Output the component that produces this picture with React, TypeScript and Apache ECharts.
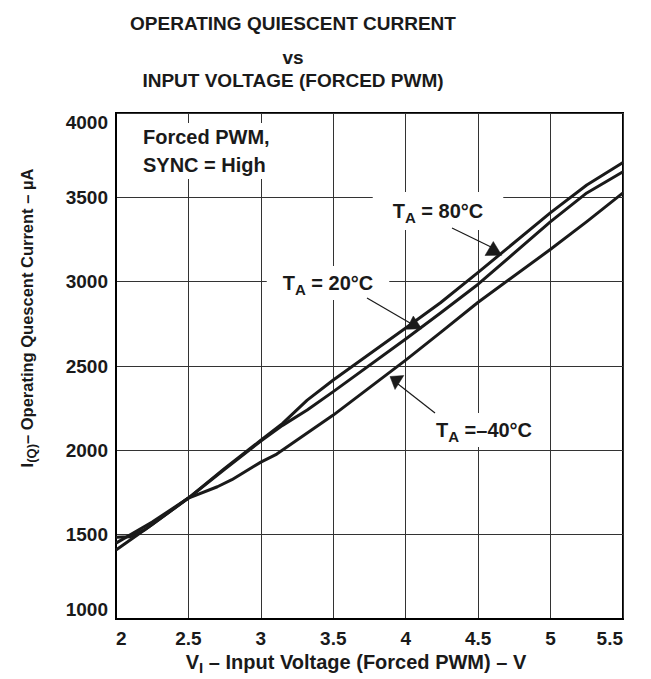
import React, { useEffect, useRef } from "react";
import * as echarts from "echarts";

// ---- data ----
const voltage80 = [2.0, 2.25, 2.5, 2.75, 3.0, 3.15, 3.32, 3.5, 4.0, 4.24, 4.5, 5.0, 5.25, 5.5];
const current80 = [1409, 1560, 1717, 1893, 2060, 2160, 2298, 2417, 2725, 2875, 3055, 3409, 3573, 3706];

const voltage20 = [2.0, 2.25, 2.5, 2.75, 3.0, 3.15, 3.32, 3.5, 4.0, 4.24, 4.5, 5.0, 5.25, 5.5];
const current20 = [1450, 1575, 1717, 1888, 2055, 2148, 2239, 2348, 2660, 2814, 2985, 3356, 3526, 3652];

const voltageM40 = [2.0, 2.1, 2.2, 2.5, 2.7, 2.8, 3.0, 3.11, 3.5, 4.0, 4.25, 4.5, 5.0, 5.25, 5.5];
const currentM40 = [1484, 1488, 1530, 1717, 1784, 1826, 1930, 1978, 2209, 2535, 2705, 2878, 3192, 3356, 3526];

const xTicks = [2, 2.5, 3, 3.5, 4, 4.5, 5, 5.5];
const yTicks = [1000, 1500, 2000, 2500, 3000, 3500, 4000];

const titleLines = ["OPERATING QUIESCENT CURRENT", "vs", "INPUT VOLTAGE (FORCED PWM)"];
const noteLines = ["Forced PWM,", "SYNC = High"];
const seriesNames = ["TA = 80°C", "TA = 20°C", "TA = –40°C"];

const FONT = '"Liberation Sans", Arial, Helvetica, sans-serif';
const INK = "#1a1a1a";

function pairs(xs: number[], ys: number[]) {
  return xs.map((x, i) => [x, ys[i]]);
}

const subRich = (size: number, subSize: number, lh: number) => ({
  t: { fontFamily: FONT, fontWeight: "bold", fontSize: size, lineHeight: lh, fill: INK, color: INK },
  s: {
    fontFamily: FONT,
    fontWeight: "bold",
    fontSize: subSize,
    lineHeight: subSize + 1,
    verticalAlign: "bottom",
    fill: INK,
    color: INK,
  },
});

export default function App() {
  const ref = useRef<HTMLDivElement>(null);

  useEffect(() => {
    if (!ref.current) return;
    const chart = echarts.init(ref.current, undefined, { renderer: "svg" });

    const lineSeries = (name: string, data: number[][]) => ({
      name,
      type: "line",
      data,
      showSymbol: false,
      symbol: "none",
      smooth: false,
      z: 3,
      lineStyle: { color: INK, width: 3, join: "round" },
      itemStyle: { color: INK },
    });

    const label = (
      cx: number,
      cy: number,
      main: string,
      rest: string,
      padding: number[]
    ) => ({
      type: "text",
      x: cx,
      y: cy,
      z: 1,
      style: {
        text: `{t|${main}}{s|A}{t|${rest}}`,
        rich: subRich(20, 15, 28),
        align: "center",
        verticalAlign: "middle",
        backgroundColor: "#ffffff",
        padding,
      },
    });

    const arrow = (
      from: number[],
      to: number[],
      tri: number[][]
    ) => [
      {
        type: "line",
        z: 4,
        shape: { x1: from[0], y1: from[1], x2: to[0], y2: to[1] },
        style: { stroke: INK, lineWidth: 1.2 },
      },
      {
        type: "polygon",
        z: 4,
        shape: { points: tri },
        style: { fill: INK, stroke: INK, lineWidth: 0.5 },
      },
    ];

    chart.setOption({
      animation: false,
      backgroundColor: "#ffffff",
      grid: {
        left: 116,
        top: 113,
        width: 507,
        height: 506,
        show: true,
        borderColor: "#000000",
        borderWidth: 2,
        backgroundColor: "transparent",
        containLabel: false,
      },
      xAxis: {
        type: "value",
        min: xTicks[0],
        max: xTicks[xTicks.length - 1],
        interval: 0.5,
        axisLine: { show: true, lineStyle: { color: "#000", width: 2 } },
        axisTick: { show: false },
        splitLine: { show: true, lineStyle: { color: "#333", width: 1 } },
        axisLabel: {
          margin: 10,
          fontFamily: FONT,
          fontWeight: "bold",
          fontSize: 19,
          color: INK,
          alignMinLabel: "left",
          alignMaxLabel: "right",
          formatter: (v: number) => String(v),
        },
      },
      yAxis: {
        type: "value",
        min: yTicks[0],
        max: yTicks[yTicks.length - 1],
        interval: 500,
        axisLine: { show: true, lineStyle: { color: "#000", width: 2 } },
        axisTick: { show: false },
        splitLine: { show: true, lineStyle: { color: "#333", width: 1 } },
        axisLabel: {
          margin: 8,
          fontFamily: FONT,
          fontWeight: "bold",
          fontSize: 19,
          color: INK,
          verticalAlignMinLabel: "bottom",
          verticalAlignMaxLabel: "top",
          formatter: (v: number) => String(v),
        },
      },
      series: [
        lineSeries(seriesNames[0], pairs(voltage80, current80)),
        lineSeries(seriesNames[1], pairs(voltage20, current20)),
        lineSeries(seriesNames[2], pairs(voltageM40, currentM40)),
      ],
      graphic: [
        // title
        {
          type: "text",
          x: 293,
          y: 23,
          style: {
            text: titleLines[0],
            align: "center",
            verticalAlign: "middle",
            font: `bold 19px ${FONT}`,
            fill: INK,
          },
        },
        {
          type: "text",
          x: 293,
          y: 57,
          style: {
            text: titleLines[1],
            align: "center",
            verticalAlign: "middle",
            font: `bold 19px ${FONT}`,
            fill: INK,
          },
        },
        {
          type: "text",
          x: 293,
          y: 80,
          style: {
            text: titleLines[2],
            align: "center",
            verticalAlign: "middle",
            font: `bold 19px ${FONT}`,
            fill: INK,
          },
        },
        // note box
        {
          type: "text",
          x: 137,
          y: 123,
          z: 1,
          style: {
            text: noteLines.join("\n"),
            align: "left",
            verticalAlign: "top",
            font: `bold 20px ${FONT}`,
            lineHeight: 28,
            fill: INK,
            backgroundColor: "#ffffff",
            padding: [0, 6, 0, 6],
          },
        },
        // curve labels
        label(438, 211, "T", " = 80°C", [5, 20, 5, 20]),
        label(328, 283, "T", " = 20°C", [3, 16, 3, 16]),
        label(484, 430, "T", " =–40°C", [3, 17, 3, 17]),
        ...arrow([452, 228], [491, 247], [[493.3, 241.5], [485, 255.5], [501.7, 255.3]]),
        ...arrow([367, 298], [410, 323], [[413.3, 316], [406.5, 329.3], [421.7, 328.8]]),
        ...arrow([435, 413], [398, 384], [[390, 376.5], [403.8, 375.5], [395, 389.5]]),
        // x axis title
        {
          type: "text",
          x: 356,
          y: 662,
          style: {
            text: "{t|V}{s|I}{t| – Input Voltage (Forced PWM) – V}",
            rich: subRich(20, 15, 26),
            align: "center",
            verticalAlign: "middle",
          },
        },
        // y axis title
        {
          type: "text",
          x: 27,
          y: 318,
          rotation: Math.PI / 2,
          style: {
            text: "{t|I}{s|(Q)}{t|– Operating Quescent Current – µA}",
            rich: subRich(16.5, 13, 22),
            align: "center",
            verticalAlign: "middle",
          },
        },
      ],
    });

    return () => chart.dispose();
  }, []);

  return (
    <div
      ref={ref}
      style={{ position: "fixed", left: 0, top: 0, width: 651, height: 679, background: "#fff" }}
    />
  );
}
